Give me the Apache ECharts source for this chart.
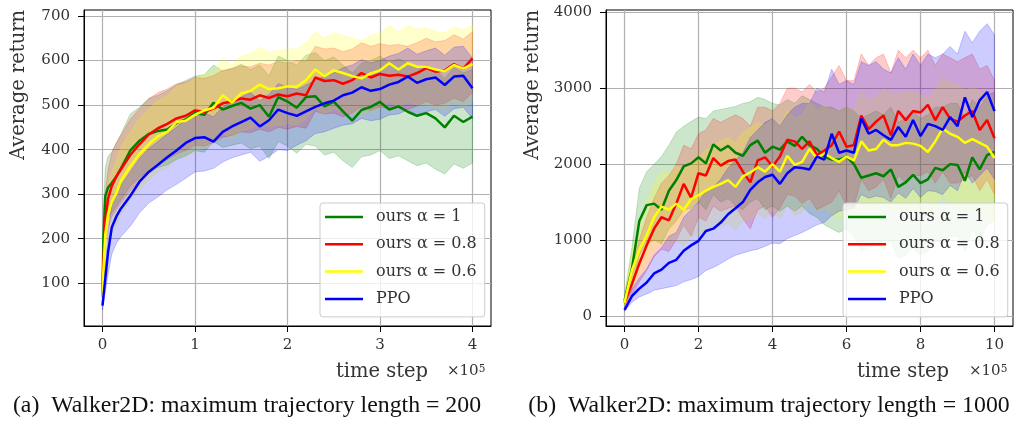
<!DOCTYPE html>
<html><head><meta charset="utf-8">
<script src="https://cdn.jsdelivr.net/npm/echarts@6/dist/echarts.min.js"></script>
<style>html,body{margin:0;padding:0;background:#fff}#c{width:1014px;height:421px}</style>
</head><body><div id="c"></div>
<script>
// ---- names, colours, ticks ----
const seriesNames = ['ours α = 1', 'ours α = 0.8', 'ours α = 0.6', 'PPO'];
const lineColors = ['#008000', '#ff0000', '#ffff00', '#0000ff'];
const bandColors = ['rgba(0,128,0,0.2)', 'rgba(255,0,0,0.2)', 'rgba(255,255,0,0.2)', 'rgba(0,0,255,0.2)'];
const xTicksA = [0, 1, 2, 3, 4];
const yTicksA = [100, 200, 300, 400, 500, 600, 700];
const xTicksB = [0, 2, 4, 6, 8, 10];
const yTicksB = [0, 1000, 2000, 3000, 4000];

// ---- (a) max trajectory length = 200, time step in units of 1e5 ----
const stepsA = [0, 0.01, 0.03, 0.06, 0.1, 0.15, 0.2,
  0.3, 0.4, 0.5, 0.6, 0.7, 0.8, 0.9,
  1.0, 1.1, 1.2, 1.3, 1.4, 1.5, 1.6, 1.7, 1.8, 1.9,
  2.0, 2.1, 2.2, 2.3, 2.4, 2.5, 2.6, 2.7, 2.8, 2.9,
  3.0, 3.1, 3.2, 3.3, 3.4, 3.5, 3.6, 3.7, 3.8, 3.9, 4.0];

const greenMeanA = [70, 200, 295, 315, 325, 340, 358,
  398, 420, 435, 442, 445, 460, 468,
  482, 478, 505, 490, 498, 505, 492, 500, 474, 518,
  508, 494, 518, 520, 497, 508, 486, 465, 489, 496,
  507, 490, 497, 485, 476, 482, 470, 450, 476, 462, 474];
const greenLowA = [55, 140, 215, 245, 258, 272, 288,
  318, 338, 352, 360, 366, 378, 386,
  398, 394, 418, 405, 410, 415, 402, 408, 380, 418,
  408, 392, 412, 408, 388, 394, 375, 360, 384, 388,
  398, 380, 386, 375, 364, 370, 356, 345, 368, 358, 370];
const greenHighA = [85, 260, 360, 385, 395, 415, 435,
  480, 495, 515, 522, 532, 545, 555,
  565, 568, 590, 576, 582, 592, 580, 590, 566, 610,
  600, 590, 612, 618, 600, 608, 590, 572, 594, 600,
  610, 596, 604, 594, 585, 590, 580, 560, 584, 572, 580];

const redMeanA = [75, 150, 240, 290, 318, 340, 356,
  388, 412, 434, 448, 458, 470, 476,
  488, 485, 492, 504, 508, 515, 512, 522, 516, 524,
  520, 526, 522, 562, 554, 556, 548, 556, 572, 562,
  570, 566, 568, 564, 572, 583, 575, 578, 592, 582, 605];
const redLowA = [60, 110, 180, 225, 250, 265, 280,
  308, 330, 352, 366, 378, 390, 398,
  410, 408, 416, 428, 432, 440, 438, 446, 440, 450,
  446, 452, 448, 486, 480, 482, 474, 482, 496, 488,
  496, 492, 494, 490, 498, 508, 500, 504, 516, 508, 528];
const redHighA = [90, 190, 300, 355, 392, 415, 432,
  468, 492, 514, 528, 536, 548, 552,
  562, 560, 566, 578, 582, 588, 586, 594, 590, 598,
  594, 600, 598, 632, 626, 628, 620, 626, 640, 632,
  638, 634, 636, 632, 640, 650, 642, 645, 658, 648, 665];

const yellowMeanA = [70, 130, 210, 255, 282, 302, 330,
  362, 390, 412, 430, 440, 462, 465,
  478, 488, 494, 522, 506, 526, 532, 546, 536, 538,
  542, 541, 556, 580, 565, 578, 572, 565, 560, 571,
  578, 594, 580, 594, 586, 586, 580, 576, 590, 582, 592];
const yellowLowA = [55, 95, 150, 190, 212, 230, 255,
  285, 310, 332, 350, 360, 380, 385,
  396, 405, 412, 438, 424, 442, 448, 460, 452, 455,
  458, 456, 470, 494, 480, 492, 486, 480, 475, 486,
  492, 508, 494, 508, 500, 500, 494, 490, 504, 496, 506];
const yellowHighA = [85, 170, 270, 320, 350, 375, 405,
  440, 470, 492, 510, 520, 542, 546,
  560, 570, 576, 604, 590, 610, 616, 630, 620, 622,
  626, 626, 640, 664, 650, 662, 656, 650, 646, 656,
  662, 678, 664, 678, 670, 672, 665, 662, 675, 668, 680];

const blueMeanA = [50, 70, 110, 170, 225, 250, 268,
  296, 328, 350, 366, 383, 398, 415,
  426, 428, 418, 440, 452, 462, 472, 452, 466, 490,
  482, 476, 486, 496, 504, 510, 522, 528, 540, 532,
  536, 546, 552, 564, 550, 558, 562, 545, 564, 566, 538];
const blueLowA = [40, 55, 80, 120, 165, 190, 205,
  228, 258, 280, 294, 310, 322, 336,
  350, 352, 358, 372, 382, 388, 394, 374, 385, 400,
  398, 410, 420, 436, 440, 448, 455, 458, 470, 465,
  468, 478, 480, 490, 478, 485, 490, 475, 492, 495, 470];
const blueHighA = [60, 85, 140, 215, 275, 300, 320,
  350, 380, 402, 418, 435, 450, 468,
  480, 482, 474, 496, 508, 518, 528, 510, 524, 548,
  540, 535, 545, 556, 565, 572, 584, 590, 602, 595,
  600, 610, 616, 628, 614, 622, 628, 612, 630, 632, 605];

// ---- (b) max trajectory length = 1000 ----
const stepsB = [0, 0.2, 0.4, 0.6, 0.8, 1.0, 1.2, 1.4, 1.6, 1.8,
  2.0, 2.2, 2.4, 2.6, 2.8, 3.0, 3.2, 3.4, 3.6, 3.8,
  4.0, 4.2, 4.4, 4.6, 4.8, 5.0, 5.2, 5.4, 5.6, 5.8,
  6.0, 6.2, 6.4, 6.6, 6.8, 7.0, 7.2, 7.4, 7.6, 7.8,
  8.0, 8.2, 8.4, 8.6, 8.8, 9.0, 9.2, 9.4, 9.6, 9.8, 10.0];

const greenMeanB = [200, 620, 1250, 1460, 1480, 1400, 1650, 1790, 1970, 2010,
  2090, 2010, 2260, 2180, 2240, 2150, 2110, 2250, 2310, 2150,
  2230, 2190, 2300, 2240, 2360, 2250, 2200, 2100, 2060, 2060,
  2100, 2000, 1820, 1850, 1880, 1840, 1930, 1700, 1760, 1860,
  1750, 1800, 1950, 1920, 2000, 1990, 1780, 2090, 1930, 2120, 2160];
const greenLowB = [150, 350, 800, 950, 1000, 950, 1150, 1250, 1400, 1420,
  1500, 1400, 1600, 1500, 1550, 1450, 1400, 1500, 1550, 1400,
  1450, 1380, 1450, 1380, 1450, 1350, 1300, 1200, 1150, 1100,
  1150, 1050, 850, 900, 950, 880, 980, 760, 800, 900,
  800, 850, 1000, 950, 1050, 1050, 850, 1150, 1000, 1200, 1250];
const greenHighB = [260, 900, 1680, 1900, 2000, 2100, 2250, 2420, 2500, 2560,
  2620, 2600, 2700, 2720, 2740, 2760, 2800, 2820, 2880, 2850,
  2800, 2780, 2850, 2800, 2900, 2850, 2800, 2750, 2750, 2700,
  2750, 2700, 2600, 2650, 2700, 2650, 2750, 2550, 2600, 2700,
  2600, 2650, 2750, 2750, 2800, 2800, 2600, 2850, 2750, 2900, 2950];

const redMeanB = [170, 420, 690, 930, 1150, 1300, 1260, 1480, 1740, 1560,
  1880, 1850, 2080, 1980, 2040, 2060, 1900, 1760, 2050, 2090,
  1970, 2100, 2320, 2300, 2200, 2300, 2120, 2180, 2250, 2430,
  2230, 2250, 2640, 2460, 2560, 2640, 2380, 2700, 2580, 2700,
  2680, 2780, 2580, 2750, 2600, 2560, 2640, 2700, 2450, 2580, 2340];
const redLowB = [130, 280, 450, 600, 780, 880, 850, 1000, 1200, 1050,
  1300, 1250, 1450, 1380, 1420, 1450, 1280, 1150, 1400, 1450,
  1300, 1420, 1600, 1580, 1480, 1550, 1400, 1450, 1500, 1650,
  1450, 1450, 1800, 1650, 1700, 1800, 1550, 1850, 1750, 1850,
  1850, 1900, 1750, 1900, 1750, 1750, 1800, 1850, 1650, 1800, 1600];
const redHighB = [220, 600, 1000, 1300, 1550, 1750, 1850, 2000, 2250, 2200,
  2400, 2450, 2600, 2550, 2600, 2650, 2600, 2500, 2750, 2750,
  2700, 2800, 3000, 3000, 2950, 3050, 2950, 3000, 3150, 3300,
  3100, 3100, 3450, 3300, 3400, 3450, 3200, 3500, 3400, 3500,
  3400, 3500, 3300, 3450, 3400, 3350, 3400, 3450, 3250, 3300, 3100];

const yellowMeanB = [170, 600, 870, 1060, 1300, 1440, 1400, 1480, 1400, 1540,
  1590, 1650, 1700, 1740, 1790, 1700, 1840, 1890, 1960, 1900,
  2000, 1900, 2110, 1990, 2030, 2200, 2080, 2140, 2080, 2030,
  2100, 2050, 2300, 2180, 2200, 2320, 2250, 2250, 2280, 2270,
  2240, 2160, 2300, 2470, 2400, 2360, 2280, 2330, 2280, 2230, 2080];
const yellowLowB = [130, 380, 550, 700, 880, 980, 950, 1000, 920, 1050,
  1080, 1120, 1150, 1180, 1220, 1130, 1250, 1280, 1350, 1280,
  1380, 1280, 1450, 1330, 1360, 1500, 1380, 1420, 1350, 1300,
  1350, 1300, 1520, 1400, 1400, 1500, 1420, 1400, 1420, 1400,
  1380, 1300, 1420, 1580, 1500, 1450, 1380, 1420, 1380, 1330, 1200];
const yellowHighB = [220, 850, 1250, 1500, 1750, 1900, 1880, 1980, 1900, 2050,
  2100, 2180, 2250, 2300, 2350, 2280, 2420, 2480, 2550, 2500,
  2600, 2500, 2700, 2600, 2650, 2820, 2700, 2780, 2720, 2700,
  2750, 2700, 2950, 2850, 2880, 3000, 2920, 2930, 2960, 2950,
  2920, 2850, 2980, 3150, 3080, 3050, 2970, 3020, 2970, 2920, 2780];

const blueMeanB = [80, 260, 360, 440, 560, 610, 700, 740, 860, 930,
  990, 1120, 1150, 1230, 1340, 1420, 1500, 1660, 1760, 1830,
  1860, 1740, 1880, 1960, 1950, 1930, 2100, 2060, 2400, 2150,
  2180, 2150, 2600, 2400, 2450, 2380, 2320, 2490, 2360, 2580,
  2370, 2530, 2500, 2450, 2620, 2500, 2880, 2620, 2840, 2950, 2700];
const blueLowB = [60, 180, 250, 290, 340, 360, 380, 400, 450, 480,
  520, 600, 640, 690, 750, 800, 830, 860, 880, 920,
  960, 950, 1020, 1060, 1100, 1150, 1200, 1230, 1320, 1380,
  1400, 1420, 1600, 1550, 1580, 1560, 1500, 1620, 1550, 1680,
  1560, 1650, 1640, 1600, 1720, 1650, 1900, 1750, 1850, 1950, 1800];
const blueHighB = [100, 350, 500, 620, 800, 900, 1050, 1100, 1300, 1400,
  1500, 1650, 1700, 1800, 1950, 2050, 2150, 2350, 2450, 2550,
  2600, 2500, 2650, 2750, 2800, 2800, 3000, 2950, 3250, 3050,
  3100, 3050, 3350, 3300, 3350, 3250, 3200, 3400, 3250, 3450,
  3300, 3450, 3400, 3450, 3550, 3450, 3750, 3600, 3750, 3850, 3700];

// ---- build options ----
const panels = [
  { steps: stepsA, means: [greenMeanA, redMeanA, yellowMeanA, blueMeanA],
    lows: [greenLowA, redLowA, yellowLowA, blueLowA],
    highs: [greenHighA, redHighA, yellowHighA, blueHighA] },
  { steps: stepsB, means: [greenMeanB, redMeanB, yellowMeanB, blueMeanB],
    lows: [greenLowB, redLowB, yellowLowB, blueLowB],
    highs: [greenHighB, redHighB, yellowHighB, blueHighB] }
];
const pairs = (xs, ys) => xs.map((x, i) => [x, ys[i]]);
const FONT = 'DejaVu Serif';
const series = [];

function bandSeries(gi, steps, lows, highs, color) {
  const rows = steps.map((x, i) => [x, lows[i], highs[i]]);
  return {
    type: 'custom', xAxisIndex: gi, yAxisIndex: gi, silent: true, z: 1,
    data: rows, encode: { x: 0, y: [1, 2] }, clip: true,
    renderItem: function (params, api) {
      if (params.dataIndex !== 0) return null;
      const pts = [];
      for (let i = 0; i < rows.length; i++) pts.push(api.coord([rows[i][0], rows[i][2]]));
      for (let i = rows.length - 1; i >= 0; i--) pts.push(api.coord([rows[i][0], rows[i][1]]));
      return { type: 'polygon', shape: { points: pts },
        style: { fill: color, stroke: color, lineWidth: 1 } };
    }
  };
}

panels.forEach((p, gi) => {
  for (let k = 0; k < 4; k++) series.push(bandSeries(gi, p.steps, p.lows[k], p.highs[k], bandColors[k]));
  for (let k = 0; k < 4; k++) {
    series.push({
      type: 'line', name: seriesNames[k], xAxisIndex: gi, yAxisIndex: gi,
      data: pairs(p.steps, p.means[k]), symbol: 'none', showSymbol: false, z: 3,
      lineStyle: { color: lineColors[k], width: 2.5 }, itemStyle: { color: lineColors[k] },
      emphasis: { disabled: true }
    });
  }
});

function xAx(gi, min, max, split, ticks) {
  return { type: 'value', gridIndex: gi, min: min, max: max, splitNumber: split,
    axisLine: { show: true, onZero: false, lineStyle: { color: '#000', width: 1 } },
    axisTick: { show: true, length: 6, customValues: ticks, lineStyle: { color: '#000', width: 1 } },
    axisLabel: { customValues: ticks, margin: 12, color: '#333', fontFamily: FONT, fontSize: 15,
      formatter: v => String(v) },
    splitLine: { show: true, lineStyle: { color: '#b0b0b0', width: 1.2 } } };
}
function yAx(gi, min, max, split, ticks) {
  const a = xAx(gi, min, max, split, ticks);
  a.axisLabel.margin = 14;
  return a;
}

const legendBase = {
  orient: 'vertical', icon: 'rect', itemWidth: 38, itemHeight: 2.5, itemGap: 9.3,
  padding: [5, 8, 9, 5], backgroundColor: 'rgba(255,255,255,0.8)',
  borderColor: '#cccccc', borderWidth: 1, borderRadius: 3,
  data: seriesNames, selectedMode: false,
  textStyle: { fontFamily: FONT, fontSize: 16, color: '#333', lineHeight: 18, padding: [0, 0, 0, 8] }
};

const txt = (x, y, text, size, family, extra) => Object.assign({
  type: 'text', x: x, y: y, silent: true,
  style: { text: text, fill: '#333', fontSize: size, fontFamily: family,
    align: 'center', verticalAlign: 'middle', textAlign: 'center', textVerticalAlign: 'middle' }
}, extra || {});
const supText = (x, y) => ({
  type: 'text', x: x, y: y, silent: true,
  style: { text: '×10{s|5}', fill: '#333', fontSize: 15, fontFamily: FONT,
    align: 'left', verticalAlign: 'middle', textAlign: 'left', textVerticalAlign: 'middle',
    rich: { s: { fontSize: 10.5, fontFamily: FONT, fill: '#333', verticalAlign: 'top', lineHeight: 10 } } }
});

const option = {
  animation: false,
  backgroundColor: '#fff',
  grid: [
    { left: 84, top: 10, width: 407, height: 316, show: true, borderColor: '#000', borderWidth: 1, backgroundColor: 'rgba(0,0,0,0)' },
    { left: 606, top: 10, width: 407, height: 316, show: true, borderColor: '#000', borderWidth: 1, backgroundColor: 'rgba(0,0,0,0)' }
  ],
  xAxis: [xAx(0, -0.2, 4.2, 5, xTicksA), xAx(1, -0.5, 10.5, 5, xTicksB)],
  yAxis: [yAx(0, 4, 713.5, 7, yTicksA), yAx(1, -132, 4030, 4, yTicksB)],
  legend: [
    Object.assign({}, legendBase, { left: 320, top: 203 }),
    Object.assign({}, legendBase, { left: 843, top: 203 })
  ],
  series: series,
  graphic: [
    txt(19, 85, 'Average return', 19.5, FONT, { rotation: Math.PI / 2 }),
    txt(533, 85, 'Average return', 19.5, FONT, { rotation: Math.PI / 2 }),
    txt(382, 372, 'time step', 19.5, FONT),
    txt(903, 372, 'time step', 19.5, FONT),
    supText(447, 371),
    supText(969, 371),
    txt(247, 406, '(a)  Walker2D: maximum trajectory length = 200', 23.8, 'Liberation Serif'),
    txt(769, 406, '(b)  Walker2D: maximum trajectory length = 1000', 23.8, 'Liberation Serif')
  ]
};
option.graphic.forEach(g => { if (g.style.fontFamily === 'Liberation Serif') g.style.fill = '#111'; });

const chart = echarts.init(document.getElementById('c'), null, { renderer: 'canvas' });
chart.setOption(option);
</script>
</body></html>
